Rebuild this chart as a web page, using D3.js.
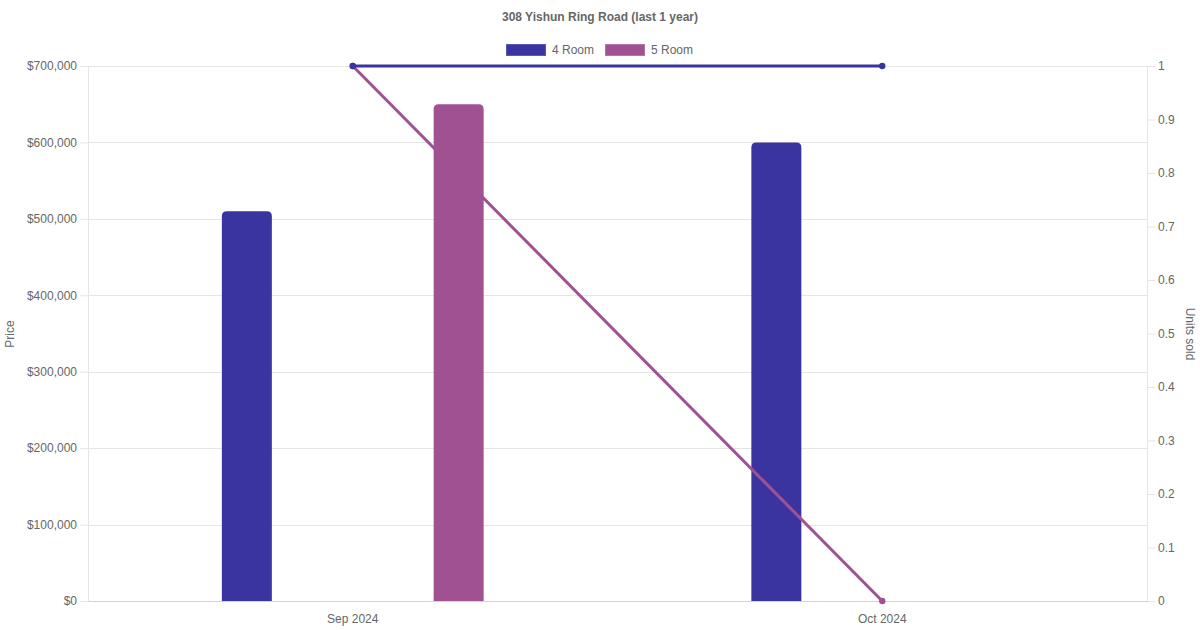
<!DOCTYPE html>
<html>
<head>
<meta charset="utf-8">
<script src="https://cdn.jsdelivr.net/npm/d3@7"></script>
<style>
  html, body { margin: 0; padding: 0; background: #fff; }
  svg { display: block; font-family: "Liberation Sans", Arial, Helvetica, sans-serif; }
</style>
</head>
<body>
<svg id="chart" width="1200" height="630"></svg>
<script>
const titleText = "308 Yishun Ring Road (last 1 year)";
const categories = ["Sep 2024", "Oct 2024"];
const seriesNames = ["4 Room", "5 Room"];
const price4Room = [510000, 600000];
const price5Room = [650000, null];
const units4Room = [1, 1];
const units5Room = [1, 0];
const priceTicks = [0, 100000, 200000, 300000, 400000, 500000, 600000, 700000];
const unitTicks = [0, 0.1, 0.2, 0.3, 0.4, 0.5, 0.6, 0.7, 0.8, 0.9, 1];
const colors = { "4 Room": "#3934a0", "5 Room": "#a05192" };
const borderColors = { "4 Room": "#5b57b5", "5 Room": "#b374a8" };

(function () {
const svg = d3.select("#chart");
const pLeft = 88, pRight = 1147, pTop = 66, pBottom = 601;
const textColor = "#666";
const gridColor = "#e5e5e5";

const x = d3.scaleBand().domain(categories).range([pLeft, pRight]).padding(0);
const inner = d3.scaleBand().domain(seriesNames)
  .range([x.bandwidth() * 0.1, x.bandwidth() * 0.9]).padding(0);
const yL = d3.scaleLinear().domain([0, 700000]).range([pBottom, pTop]);
const yR = d3.scaleLinear().domain([0, 1]).range([pBottom, pTop]);

// Title
svg.append("text").attr("x", 600).attr("y", 17.5).attr("text-anchor", "middle")
  .attr("dominant-baseline", "middle").attr("font-size", 12).attr("font-weight", "bold")
  .attr("fill", textColor).text(titleText);

// Legend
const legend = svg.append("g");
const legendItems = [{ name: "4 Room", x: 506 }, { name: "5 Room", x: 605 }];
legendItems.forEach(d => {
  legend.append("rect").attr("x", d.x + 0.5).attr("y", 44.5).attr("width", 39).attr("height", 11)
    .attr("fill", colors[d.name]).attr("stroke", borderColors[d.name]).attr("stroke-width", 1);
  legend.append("text").attr("x", d.x + 46).attr("y", 51).attr("dominant-baseline", "middle")
    .attr("font-size", 12).attr("fill", textColor).text(d.name);
});

// horizontal grid lines
svg.append("g").selectAll("line").data(priceTicks).join("line")
  .attr("x1", pLeft).attr("x2", pRight)
  .attr("y1", d => Math.round(yL(d)) + 0.5).attr("y2", d => Math.round(yL(d)) + 0.5)
  .attr("stroke", gridColor);

// Left axis
const gLeft = svg.append("g").attr("transform", `translate(${pLeft},0)`)
  .call(d3.axisLeft(yL).tickValues(priceTicks).tickSize(8).tickPadding(3)
    .tickFormat(d => "$" + d3.format(",")(d)));
gLeft.select(".domain").attr("stroke", gridColor);
gLeft.selectAll(".tick line").attr("stroke", gridColor);
gLeft.selectAll(".tick text").attr("fill", textColor).attr("font-size", 12)
  .attr("font-family", "Liberation Sans, Arial, sans-serif");

// Right axis
const gRight = svg.append("g").attr("transform", `translate(${pRight},0)`)
  .call(d3.axisRight(yR).tickValues(unitTicks).tickSize(8).tickPadding(3)
    .tickFormat(d => d3.format("")(+d.toFixed(1))));
gRight.select(".domain").attr("stroke", gridColor);
gRight.selectAll(".tick line").attr("stroke", gridColor);
gRight.selectAll(".tick text").attr("fill", textColor).attr("font-size", 12)
  .attr("font-family", "Liberation Sans, Arial, sans-serif");

// x axis
const gX = svg.append("g").attr("transform", `translate(0,${pBottom})`)
  .call(d3.axisBottom(x).tickSize(0).tickPadding(13));
gX.select(".domain").attr("stroke", "#d4d4d4");
gX.selectAll(".tick text").attr("fill", textColor).attr("font-size", 12)
  .attr("font-family", "Liberation Sans, Arial, sans-serif");

// Axis titles
svg.append("text").attr("transform", `translate(11,334) rotate(-90)`)
  .attr("text-anchor", "middle").attr("dominant-baseline", "middle")
  .attr("font-size", 12).attr("fill", textColor).text("Price");
svg.append("text").attr("transform", `translate(1189,334) rotate(90)`)
  .attr("text-anchor", "middle").attr("dominant-baseline", "middle")
  .attr("font-size", 12).attr("fill", textColor).text("Units sold");

const lineGen = d3.line().defined(d => d.v != null)
  .x(d => x(d.c) + x.bandwidth() / 2).y(d => yR(d.v));
const barW = Math.min(50, inner.bandwidth() * 0.9);
const r = 5;

function drawBars(name, values) {
  const data = categories.map((c, i) => ({ c, v: values[i] })).filter(d => d.v != null);
  svg.append("g").selectAll("path").data(data).join("path")
    .attr("d", d => {
      const cx = x(d.c) + inner(name) + inner.bandwidth() / 2;
      const x0 = cx - barW / 2, x1 = cx + barW / 2;
      const y0 = yL(d.v), y1 = yL(0);
      return `M${x0},${y1} L${x0},${y0 + r} Q${x0},${y0} ${x0 + r},${y0} L${x1 - r},${y0} Q${x1},${y0} ${x1},${y0 + r} L${x1},${y1} Z`;
    })
    .attr("fill", colors[name]);
}
function drawLine(name, values) {
  const pts = categories.map((c, i) => ({ c, v: values[i] }));
  svg.append("path").datum(pts).attr("d", lineGen).attr("fill", "none")
    .attr("stroke", colors[name]).attr("stroke-width", 3);
  svg.append("g").selectAll("circle").data(pts.filter(p => p.v != null)).join("circle")
    .attr("cx", p => x(p.c) + x.bandwidth() / 2).attr("cy", p => yR(p.v)).attr("r", 3.2)
    .attr("fill", colors[name]);
}

// Layer order as in the reference
drawBars("4 Room", price4Room);
drawLine("5 Room", units5Room);
drawBars("5 Room", price5Room);
drawLine("4 Room", units4Room);
})();
</script>
</body>
</html>
